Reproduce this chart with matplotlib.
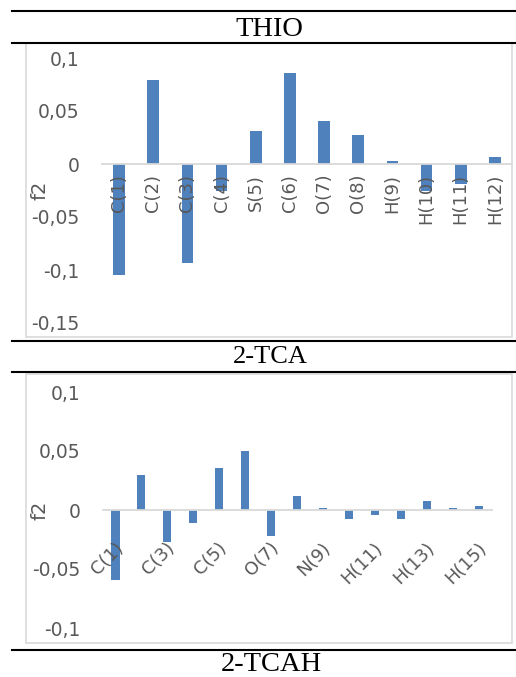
import matplotlib.pyplot as plt
from matplotlib.lines import Line2D
from matplotlib.patches import Rectangle
from matplotlib.transforms import ScaledTranslation

# Datos
atomos_thio = ['C(1)', 'C(2)', 'C(3)', 'C(4)', 'S(5)', 'C(6)', 'O(7)', 'O(8)',
               'H(9)', 'H(10)', 'H(11)', 'H(12)']
f2_thio = [-0.105, 0.079, -0.093, -0.025, 0.031, 0.086, 0.041, 0.027,
           0.003, -0.025, -0.019, 0.007]

atomos_tca = ['C(1)', 'C(2)', 'C(3)', 'C(4)', 'C(5)', 'S(6)', 'O(7)', 'O(8)',
              'N(9)', 'H(10)', 'H(11)', 'H(12)', 'H(13)', 'H(14)', 'H(15)']
f2_tca = [-0.059, 0.030, -0.027, -0.011, 0.036, 0.050, -0.022, 0.012,
          0.002, -0.008, -0.004, -0.008, 0.008, 0.002, 0.0035]

titulos = ['THIO', '2-TCA', '2-TCAH']

W, H = 516, 677
AZUL = '#4F81BD'
GRIS = '#595959'
GRIS_CLARO = '#D9D9D9'


def fx(x):
    return x / W


def fy(y):
    return 1 - y / H


def coma(v):
    s = ('%g' % round(v, 3)).replace('.', ',')
    return s


fig = plt.figure(figsize=(W / 100, H / 100), dpi=100)

# Lineas de la tabla
for y in [11, 42.7, 340.5, 371.5, 650]:
    fig.add_artist(Line2D([fx(12), 1], [fy(y), fy(y)], color='black', lw=1.5,
                          transform=fig.transFigure))

# Titulos de la tabla
fig.text(fx(269), fy(36), titulos[0], family='Liberation Serif', fontsize=20.5,
         ha='center', va='baseline')
fig.text(fx(270), fy(363), titulos[1], family='Liberation Serif', fontsize=19,
         ha='center', va='baseline')
fig.text(fx(271), fy(671), titulos[2], family='Liberation Serif', fontsize=20.5,
         ha='center', va='baseline')

# Marcos de los graficos
for (y0, y1) in [(43.5, 337), (374, 643)]:
    fig.add_artist(Rectangle((fx(26), fy(y1)), fx(512) - fx(26), fy(y0) - fy(y1),
                             fill=False, edgecolor=GRIS_CLARO, lw=1.2,
                             transform=fig.transFigure))


def preparar(ax, yticks):
    for s in ['top', 'right', 'left']:
        ax.spines[s].set_visible(False)
    ax.spines['bottom'].set_position(('data', 0))
    ax.spines['bottom'].set_color(GRIS_CLARO)
    ax.spines['bottom'].set_linewidth(1.3)
    ax.set_yticks(yticks)
    ax.set_yticklabels([coma(v) for v in yticks])
    ax.tick_params(axis='y', length=0, pad=16, labelsize=13.5, labelcolor=GRIS)
    ax.set_facecolor('none')


# Grafico 1: THIO
ax1 = fig.add_axes([fx(102), fy(323), fx(512) - fx(102), fy(58) - fy(323)])
x1 = range(len(atomos_thio))
ax1.bar(x1, f2_thio, width=0.34, color=AZUL, zorder=1)
ax1.set_xlim(-0.5, len(atomos_thio) - 0.5)
ax1.set_ylim(-0.15, 0.1)
preparar(ax1, [-0.15, -0.1, -0.05, 0, 0.05, 0.1])
ax1.set_xticks(list(x1))
ax1.set_xticklabels(atomos_thio, rotation=90, va='top', ha='center')
ax1.tick_params(axis='x', length=0, pad=7, labelsize=13, labelcolor=GRIS)
ax1.set_ylabel('f2', fontsize=14, color=GRIS)
ax1.yaxis.set_label_coords(-0.127, 0.5)

# Grafico 2: 2-TCA
ax2 = fig.add_axes([fx(102.5), fy(628), fx(492) - fx(102.5), fy(392) - fy(628)])
x2 = range(len(atomos_tca))
ax2.bar(x2, f2_tca, width=0.31, color=AZUL, zorder=1)
ax2.set_xlim(-0.5, len(atomos_tca) - 0.5)
ax2.set_ylim(-0.1, 0.1)
preparar(ax2, [-0.1, -0.05, 0, 0.05, 0.1])
pos2 = list(x2)[::2]
ax2.set_xticks(pos2)
ax2.set_xticklabels(atomos_tca[::2], rotation=45, ha='right', va='top',
                    rotation_mode='anchor')
ax2.tick_params(axis='x', length=0, pad=21, labelsize=13, labelcolor=GRIS)
desplaza = ScaledTranslation(-1 / 72, 0, fig.dpi_scale_trans)
for lab in ax2.get_xticklabels():
    lab.set_transform(lab.get_transform() + desplaza)
ax2.set_ylabel('f2', fontsize=14, color=GRIS)
ax2.yaxis.set_label_coords(-0.135, 0.5)

fig.savefig('out.png', dpi=100)
